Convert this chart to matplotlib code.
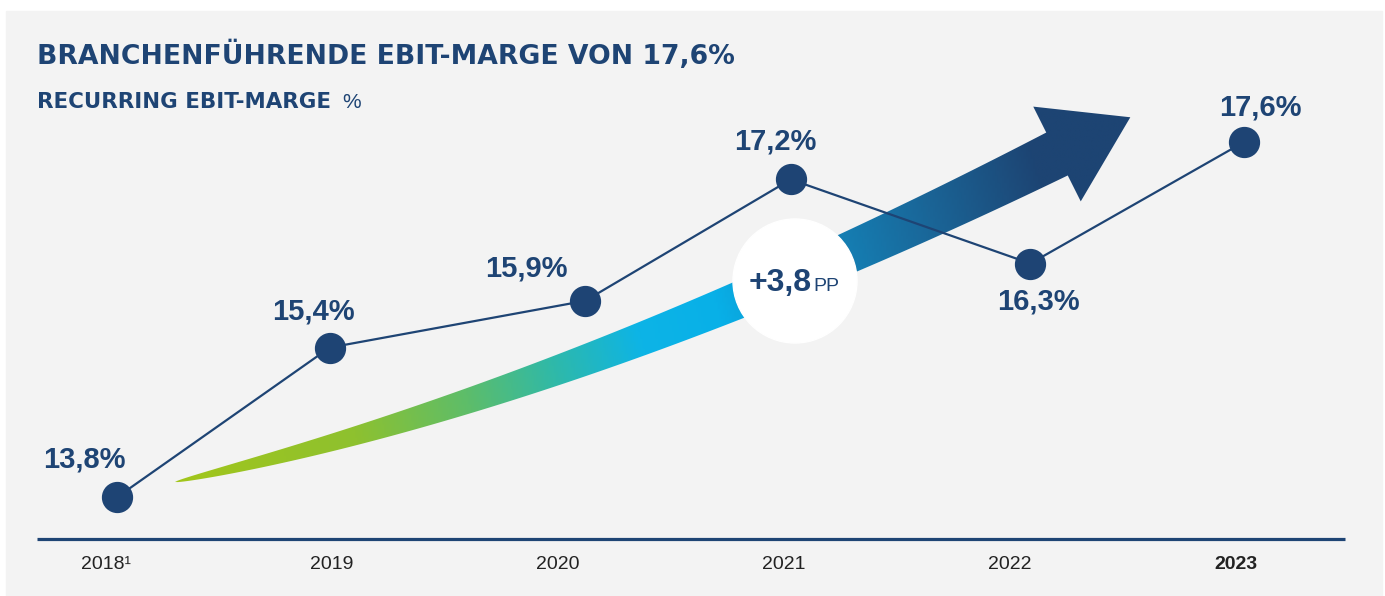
import numpy as np
import matplotlib
matplotlib.use('Agg')
import matplotlib.pyplot as plt
import matplotlib.transforms as mtransforms
from matplotlib.patches import Circle, Rectangle, Polygon
from matplotlib.colors import LinearSegmentedColormap

# data
years = ['2018', '2019', '2020', '2021', '2022', '2023']
year_notes = ['¹', '', '', '', '', '']
margin = [13.8, 15.4, 15.9, 17.2, 16.3, 17.6]
margin_labels = ['13,8%', '15,4%', '15,9%', '17,2%', '16,3%', '17,6%']
delta_label = '+3,8'
delta_unit = 'PP'
title = 'BRANCHENFÜHRENDE EBIT-MARGE VON 17,6%'
subtitle = 'RECURRING EBIT-MARGE'

# layout (pixels / points)
point_shift = [0.05, -0.01, 0.12, 0.03, 0.09, 0.035]
label_offset = [(-24, 27), (-12, 26), (-42, 23), (-11, 27), (6, -27), (12, 25)]

navy = '#1e4474'
W, H = 1385, 596

fig = plt.figure(figsize=(W / 100, H / 100), dpi=100)
fig.patch.set_facecolor('white')

# decoration layer in pixel coords (y downwards)
deco = fig.add_axes([0, 0, 1, 1])
deco.set_xlim(0, W)
deco.set_ylim(H, 0)
deco.axis('off')
deco.add_patch(Rectangle((6, 11), 1376, 590, color='#f3f3f3', zorder=0))

# main data axes
ax = fig.add_axes([0, 0, 1, 1], zorder=2)
ax.patch.set_alpha(0)
ax.axis('off')
ax.set_xlim(-106 / 226, (W - 106) / 226)
ax.set_ylim(13.8 - (H - 497) / 93.4, 13.8 + 497 / 93.4)

# gradient arrow
S = np.array([175.0, 482.0])
C = np.array([582.0, 392.0])
E = np.array([1057.0, 154.0])
t = np.linspace(0, 1, 300)[:, None]
cen = (1 - t) ** 2 * S + 2 * t * (1 - t) * C + t ** 2 * E
der = 2 * (1 - t) * (C - S) + 2 * t * (E - C)
der = der / np.linalg.norm(der, axis=1, keepdims=True)
nrm = np.column_stack([der[:, 1], -der[:, 0]])
hw = 24 * t[:, 0] ** 0.62
upper = cen + nrm * hw[:, None]
lower = cen - nrm * hw[:, None]
u = der[-1]
n = nrm[-1]
head = [E + n * 53, E + u * 82, E - n * 53]
pts = np.vstack([upper, head, lower[::-1]])
arrow = Polygon(pts, closed=True, facecolor='none', edgecolor='none')
deco.add_patch(arrow)

grad = LinearSegmentedColormap.from_list('g', [
    (0.00, '#a2c61b'), (0.20, '#8ec12f'), (0.33, '#5dbd6a'),
    (0.43, '#2fb9a9'), (0.53, '#0db4e6'), (0.62, '#08b0e8'),
    (0.74, '#1386bc'), (0.87, '#1a6698'), (1.00, '#1d4473')])
gx, gy = np.meshgrid(np.linspace(170, 1135, 400), np.linspace(100, 490, 160))
gval = np.clip((gx - 175) / 955 + (482 - gy) * 0.0003, 0, 1)
img = deco.imshow(gval, extent=(170, 1135, 490, 100), origin='upper',
                  cmap=grad, vmin=0, vmax=1, aspect='auto', zorder=1)
img.set_clip_path(arrow)
deco.set_xlim(0, W)
deco.set_ylim(H, 0)

# circle badge
deco.add_patch(Circle((795, 281), 62, color='white', zorder=3))
deco.text(812, 291, delta_label, ha='right', va='baseline', fontsize=23,
          fontweight='bold', color=navy, family='Liberation Sans', zorder=4)
deco.text(813, 291, delta_unit, ha='left', va='baseline', fontsize=14,
          color=navy, family='Liberation Sans', zorder=4)

# base line
deco.plot([37, 1345], [539, 539], color=navy, lw=2.3, solid_capstyle='butt', zorder=2)

# line + markers
xs = np.arange(len(years)) + np.array(point_shift)
ax.plot(xs, margin, color=navy, lw=1.6, zorder=3)
ax.plot(xs, margin, 'o', color=navy, markersize=21.5, zorder=4)
for x, v, lab, off in zip(xs, margin, margin_labels, label_offset):
    ax.annotate(lab, (x, v), xytext=off, textcoords='offset points',
                ha='center', va='center', fontsize=21, fontweight='bold',
                color=navy, family='Liberation Sans')

# year labels
tr = mtransforms.blended_transform_factory(ax.transData, deco.transData)
for i, (yr, note) in enumerate(zip(years, year_notes)):
    bold = 'bold' if i == len(years) - 1 else 'normal'
    ax.text(i, 569, yr + note, transform=tr, ha='center', va='baseline',
            fontsize=14, fontweight=bold, color='#222222',
            family='Liberation Sans')

# titles
deco.text(37, 64, title, ha='left', va='baseline', fontsize=19.2,
          fontweight='bold', color=navy, family='DejaVu Sans')
deco.text(37, 108, subtitle, ha='left', va='baseline', fontsize=15.4,
          fontweight='bold', color=navy, family='DejaVu Sans')
deco.text(342, 108, '%', ha='left', va='baseline', fontsize=15,
          color=navy, family='Liberation Sans')

fig.savefig('out.png', dpi=100)
